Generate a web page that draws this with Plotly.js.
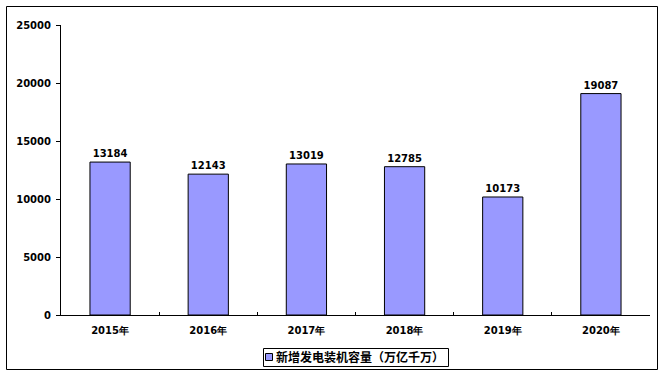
<!DOCTYPE html>
<html>
<head>
<meta charset="utf-8">
<script src="https://cdn.plot.ly/plotly-3.0.1.min.js"></script>
<style>html,body{margin:0;padding:0;background:#fff;}</style>
</head>
<body>
<div id="chart" style="width:664px;height:376px;"></div>
<script>
const categories = ['2015年', '2016年', '2017年', '2018年', '2019年', '2020年'];
const values = [13184, 12143, 13019, 12785, 10173, 19087];
const seriesName = '新增发电装机容量（万亿千万）';
const yTicks = [0, 5000, 10000, 15000, 20000, 25000];

const W = 664, H = 376;
const L = 61, R = 14, T = 25, B = 61;
const pw = W - L - R, ph = H - T - B;
const fx = px => (px - L) / pw;
const fy = py => (H - B - py) / ph;

const font = {family: 'DejaVu Sans, Verdana, sans-serif', size: 10, color: '#000', weight: 'bold'};

const trace = {
  type: 'bar',
  x: categories,
  y: values,
  name: seriesName,
  marker: {color: '#9999FF', line: {color: '#000', width: 1}},
  text: values.map(String),
  textposition: 'outside',
  textfont: font,
  cliponaxis: false,
  showlegend: false
};

const layout = {
  width: W, height: H,
  margin: {l: L, r: R, t: T, b: B, autoexpand: false},
  paper_bgcolor: '#fff', plot_bgcolor: '#fff',
  font: font,
  bargap: 0.59,
  xaxis: {
    type: 'category',
    showline: true, linecolor: '#000', linewidth: 1,
    ticks: 'inside', ticklen: 3, tickcolor: '#000', tickson: 'boundaries',
    tickfont: font, showgrid: false, zeroline: false, ticklabelstandoff: 6, fixedrange: true
  },
  yaxis: {
    range: [0, 25000], tickvals: yTicks, ticktext: yTicks.map(String),
    showline: true, linecolor: '#000', linewidth: 1,
    ticks: 'outside', ticklen: 4, tickcolor: '#000',
    tickfont: font, showgrid: false, zeroline: false, ticklabelstandoff: 3, fixedrange: true
  },
  showlegend: false,
  annotations: [{
    xref: 'paper', yref: 'paper',
    x: fx(274), xanchor: 'left', y: fy(357), yanchor: 'middle',
    text: seriesName, showarrow: false,
    font: {family: 'DejaVu Sans, Noto Sans CJK SC, sans-serif', size: 12, color: '#000', weight: 'bold'}
  }],
  shapes: [
    {
      type: 'rect', xref: 'paper', yref: 'paper',
      x0: fx(6.5), x1: fx(657.5), y0: fy(6.5), y1: fy(369.5),
      line: {color: '#000', width: 1}, fillcolor: 'rgba(0,0,0,0)', layer: 'below'
    },
    {
      type: 'rect', xref: 'paper', yref: 'paper',
      x0: fx(263.5), x1: fx(448.5), y0: fy(348.5), y1: fy(366.5),
      line: {color: '#000', width: 1}, fillcolor: '#fff', layer: 'below'
    },
    {
      type: 'rect', xref: 'paper', yref: 'paper',
      x0: fx(265.5), x1: fx(272.5), y0: fy(353.5), y1: fy(360.5),
      line: {color: '#000', width: 1}, fillcolor: '#9999FF', layer: 'above'
    }
  ]
};

Plotly.newPlot('chart', [trace], layout, {displayModeBar: false, staticPlot: true});
</script>
</body>
</html>
